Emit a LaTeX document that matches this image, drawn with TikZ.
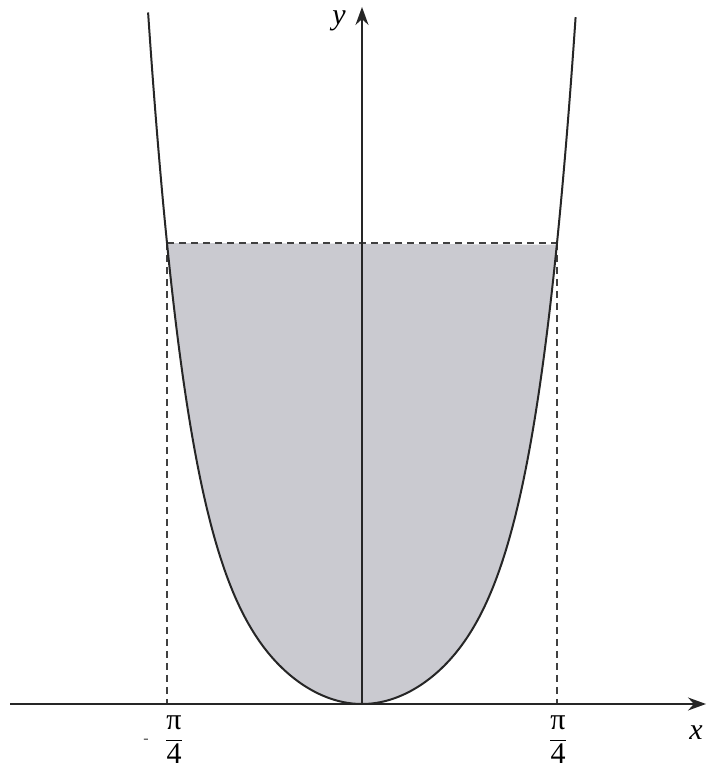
\documentclass[tikz,border=0pt]{standalone}
\usepackage{fontspec}
\setmainfont{Liberation Serif}
\usetikzlibrary{arrows.meta}
\begin{document}
\begin{tikzpicture}[x=1pt,y=1pt,
  axis/.style={line width=1.5pt,draw=black!85,-{Stealth[length=18pt,width=13pt]}},
  curve/.style={line width=2pt,draw=black!85},
  guide/.style={line width=1.2pt,draw=black!75,dash pattern=on 7pt off 5pt},
  lbl/.style={inner sep=0pt,font=\fontsize{30}{34}\selectfont},
  shade/.style={fill={rgb,255:red,202;green,202;blue,208}}]
\useasboundingbox (0,0) rectangle (706,770);
% area
\fill[shade] plot[domain=-1:1,samples=160] ({362+195*\x},{66+461*(0.45*\x*\x+0.55*(\x*\x)^3)}) -- cycle;
% coordinates
\coordinate (O) at (362,66);
\coordinate (L) at (167,527);
\coordinate (R) at (557,527);
\coordinate (Lb) at (167,66);
\coordinate (Rb) at (557,66);
\coordinate (xs) at (10,66);
\coordinate (xe) at (706,66);
\coordinate (ye) at (362,763);
% guides
\draw[guide] (L) -- (R);
\draw[guide] (L) -- (Lb);
\draw[guide] (R) -- (Rb);
% axes
\draw[axis] (xs) -- (xe);
\draw[axis] (O) -- (ye);
% curve
\draw[curve] plot[domain=-1.097:1.097,samples=200,smooth] ({362+195*\x},{66+461*(0.45*\x*\x+0.55*(\x*\x)^3)});
% labels
\node[lbl] (ylab) at (339,749) {\itshape y};
\node[lbl] (xlab) at (696,37) {\itshape x};
\node[lbl] (fl) at (174,30) {$\displaystyle\frac{\mbox{π}}{\mbox{4}}$};
\node[lbl,font=\fontsize{16}{18}\selectfont,text=black!70] (minus) at (146,29) {-};
\node[lbl] (fr) at (558,30) {$\displaystyle\frac{\mbox{π}}{\mbox{4}}$};
\end{tikzpicture}
\end{document}
